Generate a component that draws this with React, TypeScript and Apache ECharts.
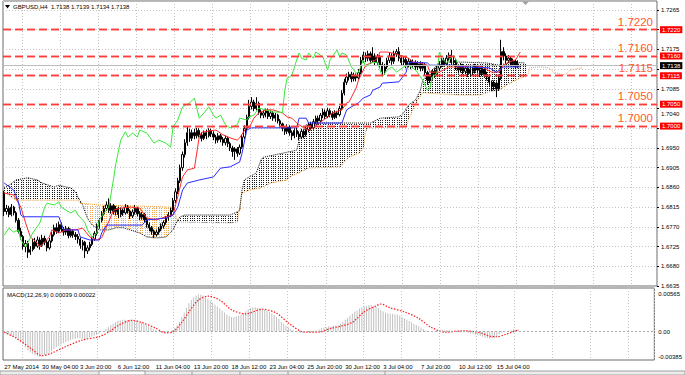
import React, { useEffect, useRef } from 'react';
import * as echarts from 'echarts';

const TIME_LABELS = ['27 May 2014', '30 May 04:00', '3 Jun 20:00', '6 Jun 12:00', '11 Jun 04:00', '13 Jun 20:00', '18 Jun 12:00', '23 Jun 04:00', '25 Jun 20:00', '30 Jun 12:00', '3 Jul 04:00', '7 Jul 20:00', '10 Jul 12:00', '15 Jul 04:00'];
const BARS_PER_LABEL = 16;
const SLOT_COUNT = 275;

// [open, close, low, high]
const CANDLES = [
  [1.6848,1.6805,1.6795,1.6852],[1.6805,1.6812,1.6798,1.6820],[1.6812,1.6798,1.6792,1.6818],[1.6798,1.6815,1.6794,1.6822],[1.6815,1.6802,1.6796,1.6818],
  [1.6802,1.6785,1.6780,1.6806],[1.6785,1.6760,1.6755,1.6790],[1.6760,1.6748,1.6740,1.6768],[1.6748,1.6725,1.6718,1.6752],[1.6725,1.6732,1.6712,1.6740],
  [1.6732,1.6712,1.6699,1.6738],[1.6712,1.6718,1.6706,1.6726],[1.6718,1.6735,1.6714,1.6742],[1.6735,1.6726,1.6720,1.6745],[1.6726,1.6740,1.6722,1.6748],
  [1.6740,1.6728,1.6718,1.6746],[1.6728,1.6744,1.6724,1.6752],[1.6744,1.6735,1.6728,1.6750],[1.6735,1.6722,1.6714,1.6740],[1.6722,1.6738,1.6718,1.6745],
  [1.6738,1.6752,1.6734,1.6758],[1.6752,1.6768,1.6748,1.6775],[1.6768,1.6760,1.6754,1.6778],[1.6760,1.6775,1.6756,1.6782],[1.6775,1.6765,1.6758,1.6780],
  [1.6765,1.6758,1.6750,1.6770],[1.6758,1.6766,1.6752,1.6772],[1.6766,1.6750,1.6744,1.6770],[1.6750,1.6760,1.6746,1.6766],[1.6760,1.6752,1.6745,1.6764],
  [1.6752,1.6748,1.6740,1.6758],[1.6748,1.6742,1.6732,1.6754],[1.6742,1.6728,1.6720,1.6746],[1.6728,1.6735,1.6716,1.6740],[1.6735,1.6715,1.6699,1.6738],
  [1.6715,1.6722,1.6708,1.6728],[1.6722,1.6730,1.6716,1.6736],[1.6730,1.6742,1.6726,1.6748],[1.6742,1.6755,1.6738,1.6760],[1.6755,1.6772,1.6750,1.6778],
  [1.6772,1.6785,1.6766,1.6790],[1.6785,1.6800,1.6780,1.6806],[1.6800,1.6812,1.6796,1.6818],[1.6812,1.6820,1.6806,1.6828],[1.6820,1.6808,1.6802,1.6835],
  [1.6808,1.6818,1.6800,1.6824],[1.6818,1.6805,1.6798,1.6822],[1.6805,1.6812,1.6796,1.6818],[1.6812,1.6798,1.6790,1.6816],[1.6798,1.6808,1.6792,1.6814],
  [1.6808,1.6802,1.6795,1.6812],[1.6802,1.6815,1.6798,1.6822],[1.6815,1.6806,1.6800,1.6820],[1.6806,1.6795,1.6788,1.6810],[1.6795,1.6804,1.6790,1.6810],
  [1.6804,1.6812,1.6798,1.6820],[1.6812,1.6800,1.6794,1.6816],[1.6800,1.6792,1.6785,1.6806],[1.6792,1.6798,1.6786,1.6804],[1.6798,1.6786,1.6780,1.6802],
  [1.6786,1.6775,1.6768,1.6790],[1.6775,1.6768,1.6760,1.6780],[1.6768,1.6760,1.6752,1.6772],[1.6760,1.6752,1.6745,1.6764],[1.6752,1.6758,1.6748,1.6764],
  [1.6758,1.6765,1.6752,1.6770],[1.6765,1.6772,1.6760,1.6778],[1.6772,1.6780,1.6766,1.6785],[1.6780,1.6790,1.6775,1.6795],[1.6790,1.6798,1.6784,1.6804],
  [1.6798,1.6808,1.6792,1.6814],[1.6808,1.6830,1.6804,1.6836],[1.6830,1.6850,1.6824,1.6858],[1.6850,1.6875,1.6845,1.6882],[1.6875,1.6905,1.6870,1.6912],
  [1.6905,1.6935,1.6898,1.6942],[1.6935,1.6962,1.6928,1.6970],[1.6962,1.6985,1.6955,1.6998],[1.6985,1.6972,1.6964,1.6994],[1.6972,1.6985,1.6966,1.6992],
  [1.6985,1.6978,1.6970,1.6994],[1.6978,1.6990,1.6972,1.6996],[1.6990,1.6980,1.6974,1.6995],[1.6980,1.6972,1.6965,1.6986],[1.6972,1.6985,1.6968,1.6990],
  [1.6985,1.6978,1.6970,1.6992],[1.6978,1.6990,1.6974,1.6995],[1.6990,1.6982,1.6975,1.6994],[1.6982,1.6975,1.6968,1.6988],[1.6975,1.6968,1.6960,1.6980],
  [1.6968,1.6978,1.6962,1.6984],[1.6978,1.6970,1.6963,1.6982],[1.6970,1.6962,1.6955,1.6975],[1.6962,1.6972,1.6956,1.6978],[1.6972,1.6960,1.6952,1.6976],
  [1.6960,1.6950,1.6943,1.6964],[1.6950,1.6942,1.6930,1.6955],[1.6942,1.6948,1.6923,1.6952],[1.6948,1.6938,1.6930,1.6952],[1.6938,1.6952,1.6934,1.6958],
  [1.6952,1.6975,1.6948,1.6980],[1.6975,1.6995,1.6970,1.7002],[1.6995,1.7020,1.6990,1.7026],[1.7020,1.7045,1.7015,1.7060],[1.7045,1.7055,1.7038,1.7066],
  [1.7055,1.7040,1.7034,1.7060],[1.7040,1.7052,1.7036,1.7066],[1.7052,1.7032,1.7026,1.7056],[1.7032,1.7025,1.7018,1.7038],[1.7025,1.7030,1.7018,1.7036],
  [1.7030,1.7035,1.7020,1.7040],[1.7035,1.7022,1.7016,1.7040],[1.7022,1.7030,1.7016,1.7036],[1.7030,1.7018,1.7012,1.7034],[1.7018,1.7025,1.7010,1.7030],
  [1.7025,1.7012,1.7006,1.7028],[1.7012,1.7005,1.6996,1.7016],[1.7005,1.6995,1.6988,1.7008],[1.6995,1.6988,1.6980,1.7000],[1.6988,1.6998,1.6982,1.7004],
  [1.6998,1.6985,1.6978,1.7002],[1.6985,1.6978,1.6968,1.6990],[1.6978,1.6990,1.6972,1.6995],[1.6990,1.6982,1.6975,1.6996],[1.6982,1.6975,1.6968,1.6988],
  [1.6975,1.6988,1.6970,1.6994],[1.6988,1.6980,1.6972,1.6992],[1.6980,1.6992,1.6976,1.6998],[1.6992,1.7002,1.6986,1.7008],[1.7002,1.6996,1.6990,1.7010],
  [1.6996,1.7010,1.6992,1.7016],[1.7010,1.7018,1.7004,1.7024],[1.7018,1.7012,1.7005,1.7024],[1.7012,1.7025,1.7008,1.7030],[1.7025,1.7032,1.7018,1.7040],
  [1.7032,1.7022,1.7016,1.7038],[1.7022,1.7035,1.7018,1.7042],[1.7035,1.7028,1.7020,1.7040],[1.7028,1.7020,1.7014,1.7034],[1.7020,1.7030,1.7016,1.7036],
  [1.7030,1.7026,1.7018,1.7035],[1.7026,1.7040,1.7022,1.7046],[1.7040,1.7075,1.7036,1.7082],[1.7075,1.7100,1.7070,1.7108],[1.7100,1.7112,1.7094,1.7120],
  [1.7112,1.7118,1.7104,1.7124],[1.7118,1.7108,1.7100,1.7124],[1.7108,1.7115,1.7102,1.7122],[1.7115,1.7110,1.7102,1.7120],[1.7110,1.7122,1.7106,1.7130],
  [1.7122,1.7150,1.7118,1.7158],[1.7150,1.7162,1.7145,1.7170],[1.7162,1.7155,1.7146,1.7168],[1.7155,1.7165,1.7148,1.7172],[1.7165,1.7150,1.7142,1.7170],
  [1.7150,1.7160,1.7144,1.7180],[1.7160,1.7145,1.7138,1.7166],[1.7145,1.7158,1.7140,1.7164],[1.7158,1.7140,1.7132,1.7162],[1.7140,1.7125,1.7117,1.7146],
  [1.7125,1.7135,1.7117,1.7142],[1.7135,1.7150,1.7130,1.7156],[1.7150,1.7160,1.7144,1.7168],[1.7160,1.7148,1.7140,1.7166],[1.7148,1.7165,1.7142,1.7172],
  [1.7165,1.7170,1.7158,1.7176],[1.7170,1.7155,1.7148,1.7180],[1.7155,1.7145,1.7138,1.7162],[1.7145,1.7152,1.7138,1.7160],[1.7152,1.7140,1.7132,1.7158],
  [1.7140,1.7148,1.7134,1.7155],[1.7148,1.7138,1.7130,1.7152],[1.7138,1.7145,1.7132,1.7152],[1.7145,1.7135,1.7128,1.7150],[1.7135,1.7142,1.7128,1.7148],
  [1.7142,1.7132,1.7125,1.7148],[1.7132,1.7140,1.7126,1.7146],[1.7140,1.7122,1.7115,1.7144],[1.7122,1.7105,1.7094,1.7126],[1.7105,1.7112,1.7098,1.7118],
  [1.7112,1.7125,1.7106,1.7130],[1.7125,1.7118,1.7110,1.7132],[1.7118,1.7132,1.7114,1.7138],[1.7132,1.7140,1.7126,1.7148],[1.7140,1.7150,1.7134,1.7158],
  [1.7150,1.7142,1.7136,1.7156],[1.7142,1.7155,1.7138,1.7162],[1.7155,1.7162,1.7148,1.7168],[1.7162,1.7145,1.7138,1.7174],[1.7145,1.7150,1.7138,1.7160],
  [1.7150,1.7135,1.7128,1.7155],[1.7135,1.7128,1.7120,1.7140],[1.7128,1.7138,1.7122,1.7144],[1.7138,1.7125,1.7118,1.7142],[1.7125,1.7132,1.7118,1.7138],
  [1.7132,1.7120,1.7112,1.7136],[1.7120,1.7130,1.7114,1.7136],[1.7130,1.7125,1.7116,1.7136],[1.7125,1.7136,1.7120,1.7142],[1.7136,1.7128,1.7120,1.7140],
  [1.7128,1.7120,1.7112,1.7134],[1.7120,1.7130,1.7114,1.7136],[1.7130,1.7118,1.7110,1.7134],[1.7118,1.7112,1.7104,1.7124],[1.7112,1.7100,1.7092,1.7116],
  [1.7100,1.7090,1.7080,1.7104],[1.7090,1.7098,1.7082,1.7104],[1.7098,1.7085,1.7066,1.7102],[1.7085,1.7110,1.7080,1.7118],[1.7110,1.7170,1.7105,1.7197],
  [1.7170,1.7160,1.7150,1.7180],[1.7160,1.7150,1.7142,1.7166],[1.7150,1.7155,1.7144,1.7162],[1.7155,1.7142,1.7136,1.7160],[1.7142,1.7148,1.7136,1.7154],
  [1.7148,1.7136,1.7130,1.7152],[1.7136,1.7142,1.7132,1.7150],[1.7138,1.7138,1.7134,1.7139]
];

// [bar index, price] vertices
const TENKAN = [[0,1.6847],[4,1.6843],[7,1.6815],[9,1.6779],[11,1.6747],[14,1.6733],[15,1.6724],[19,1.6747],[20,1.6763],[23,1.6756],[26,1.6763],[30,1.6763],[33,1.6767],[36,1.6747],[39,1.6740],[41,1.6745],[43,1.6770],[46,1.6808],[49,1.6813],[53,1.6815],[57,1.6813],[60,1.6790],[64,1.6786],[68,1.6793],[71,1.6797],[73,1.6840],[75,1.6884],[77,1.6900],[80,1.6904],[82,1.6975],[83,1.6986],[89,1.6991],[92,1.6980],[95,1.6973],[98,1.6968],[99,1.6973],[102,1.6998],[103,1.6996],[105,1.7018],[107,1.7030],[110,1.7037],[113,1.7037],[117,1.7030],[119,1.7021],[121,1.7018],[123,1.7007],[126,1.6996],[128,1.6991],[130,1.6996],[133,1.7009],[136,1.7021],[138,1.7030],[142,1.7037],[144,1.7053],[145,1.7055],[148,1.7087],[149,1.7105],[152,1.7139],[155,1.7146],[157,1.7155],[158,1.7169],[161,1.7169],[163,1.7167],[166,1.7162],[170,1.7155],[172,1.7146],[175,1.7144],[178,1.7139],[179,1.7123],[183,1.7123],[187,1.7135],[193,1.7135],[197,1.7139],[201,1.7135],[205,1.7123],[208,1.7123],[210,1.7139],[212,1.7146],[215,1.7151],[217,1.7169]];
const KIJUN = [[0,1.6870],[4,1.6854],[6,1.6827],[7,1.6797],[8,1.6793],[23,1.6793],[25,1.6763],[31,1.6763],[32,1.6747],[36,1.6740],[40,1.6740],[41,1.6756],[43,1.6774],[58,1.6774],[60,1.6786],[68,1.6790],[71,1.6797],[73,1.6815],[75,1.6854],[77,1.6870],[82,1.6877],[88,1.6884],[91,1.6904],[95,1.6907],[99,1.6918],[100,1.6938],[102,1.6991],[104,1.6996],[123,1.6996],[124,1.7018],[127,1.7018],[128,1.7007],[142,1.7007],[144,1.7037],[146,1.7044],[149,1.7053],[151,1.7064],[154,1.7071],[155,1.7082],[158,1.7089],[159,1.7098],[166,1.7101],[169,1.7123],[170,1.7144],[172,1.7146],[178,1.7144],[179,1.7139],[189,1.7139],[193,1.7135],[204,1.7133],[207,1.7123],[210,1.7135],[217,1.7135]];
const CHIKOU = [[0,1.6751],[2,1.6767],[4,1.6758],[6,1.6763],[7,1.6740],[9,1.6724],[10,1.6735],[12,1.6756],[15,1.6779],[17,1.6815],[18,1.6824],[21,1.6820],[23,1.6827],[24,1.6815],[26,1.6808],[28,1.6802],[30,1.6808],[31,1.6797],[33,1.6786],[34,1.6779],[35,1.6763],[37,1.6747],[39,1.6756],[40,1.6786],[42,1.6802],[44,1.6815],[45,1.6847],[46,1.6880],[47,1.6915],[49,1.6968],[51,1.6987],[52,1.6975],[54,1.6984],[56,1.6975],[57,1.6991],[60,1.6984],[63,1.6961],[65,1.6968],[68,1.6961],[70,1.6952],[71,1.6998],[73,1.7014],[75,1.7044],[78,1.7053],[80,1.7064],[82,1.7018],[84,1.7030],[86,1.7044],[88,1.7025],[89,1.7018],[91,1.7025],[93,1.7003],[95,1.6996],[98,1.7003],[99,1.7018],[102,1.7014],[103,1.7021],[105,1.7025],[107,1.7041],[110,1.7037],[113,1.7032],[116,1.7032],[117,1.7030],[118,1.7082],[119,1.7110],[120,1.7112],[121,1.7117],[123,1.7151],[124,1.7167],[125,1.7155],[127,1.7151],[128,1.7167],[130,1.7155],[131,1.7169],[134,1.7158],[136,1.7128],[137,1.7151],[140,1.7174],[141,1.7158],[142,1.7167],[144,1.7162],[146,1.7135],[148,1.7121],[149,1.7123],[151,1.7151],[152,1.7135],[154,1.7144],[157,1.7146],[159,1.7112],[161,1.7128],[163,1.7135],[165,1.7123],[168,1.7135],[170,1.7139],[173,1.7128],[176,1.7105],[178,1.7082],[179,1.7087],[180,1.7112],[182,1.7121],[183,1.7169],[184,1.7155],[186,1.7144],[189,1.7162],[190,1.7151],[191,1.7138]];
const SPAN_A = [[0,1.6860],[2,1.6865],[5,1.6877],[10,1.6882],[14,1.6877],[16,1.6870],[21,1.6861],[23,1.6865],[26,1.6861],[28,1.6859],[30,1.6850],[31,1.6838],[33,1.6820],[34,1.6804],[35,1.6790],[37,1.6774],[40,1.6763],[44,1.6763],[47,1.6768],[50,1.6768],[53,1.6763],[57,1.6756],[60,1.6747],[63,1.6745],[65,1.6745],[68,1.6747],[71,1.6763],[73,1.6786],[74,1.6793],[76,1.6797],[95,1.6797],[98,1.6804],[99,1.6808],[100,1.6854],[101,1.6877],[103,1.6884],[106,1.6893],[108,1.6923],[109,1.6929],[117,1.6938],[123,1.6945],[124,1.6968],[126,1.6991],[127,1.7003],[128,1.7007],[154,1.7007],[158,1.7018],[166,1.7021],[168,1.7030],[170,1.7048],[173,1.7060],[175,1.7082],[176,1.7105],[179,1.7123],[182,1.7139],[183,1.7146],[193,1.7146],[203,1.7144],[208,1.7139],[214,1.7146],[219,1.7144]];
const SPAN_B = [[0,1.6850],[3,1.6838],[5,1.6831],[31,1.6831],[32,1.6824],[40,1.6820],[71,1.6815],[73,1.6781],[95,1.6779],[98,1.6781],[100,1.6847],[103,1.6854],[108,1.6859],[112,1.6870],[119,1.6877],[120,1.6884],[128,1.6904],[141,1.6907],[143,1.6918],[145,1.6929],[149,1.6938],[151,1.6950],[152,1.6990],[153,1.6996],[169,1.6998],[170,1.7014],[173,1.7053],[176,1.7076],[191,1.7071],[200,1.7071],[204,1.7078],[208,1.7082],[212,1.7096],[217,1.7110],[220,1.7114],[221,1.7133],[225,1.7135],[229,1.7133],[231,1.7123],[233,1.7119],[236,1.7117],[238,1.7128],[240,1.7130],[243,1.7133]];

const MACD_MAIN = [
  -0.0001,-0.0003,-0.0005,-0.0006,-0.0008,-0.0010,-0.0012,-0.0015,-0.0019,-0.0024,
  -0.0029,-0.0032,-0.0034,-0.0036,-0.0037,-0.00385,-0.0038,-0.0036,-0.0034,-0.0032,
  -0.0030,-0.0027,-0.0024,-0.0022,-0.0020,-0.0018,-0.0016,-0.0015,-0.0013,-0.0012,
  -0.0011,-0.0010,-0.0010,-0.0011,-0.0012,-0.0011,-0.0009,-0.0008,-0.0006,-0.0005,
  -0.0003,-0.0001,0.0001,0.0004,0.0007,0.0010,0.0012,0.0014,0.0016,0.0017,
  0.0018,0.0018,0.0017,0.0018,0.0017,0.0016,0.0016,0.0015,0.0014,0.0012,
  0.0010,0.0008,0.0006,0.0004,0.0002,0.0000,-0.0001,-0.0002,-0.0002,-0.0001,
  0.0000,0.0002,0.0005,0.0009,0.0015,0.0022,0.0029,0.0036,0.0043,0.0048,
  0.0052,0.0055,0.00565,0.0056,0.0055,0.0053,0.0050,0.0047,0.0044,0.0041,
  0.0038,0.0035,0.0032,0.0029,0.0026,0.0024,0.0022,0.0022,0.0023,0.0024,
  0.0026,0.0028,0.0031,0.0034,0.0036,0.0037,0.0037,0.0036,0.0036,0.0035,
  0.0033,0.0032,0.0030,0.0028,0.0025,0.0022,0.0019,0.0015,0.0012,0.0009,
  0.0006,0.0004,0.0002,0.0000,-0.0001,-0.0002,-0.0002,-0.0001,0.0000,-0.0001,
  0.0000,0.0001,0.0002,0.0003,0.0005,0.0006,0.0007,0.0008,0.0008,0.0009,
  0.0009,0.0010,0.0012,0.0015,0.0018,0.0021,0.0024,0.0027,0.0030,0.0032,
  0.0035,0.0037,0.0038,0.0039,0.0040,0.0040,0.0039,0.0038,0.0036,0.0033,
  0.0031,0.0029,0.0028,0.0027,0.0027,0.0026,0.0026,0.0024,0.0022,0.0020,
  0.0018,0.0016,0.0014,0.0012,0.0010,0.0008,0.0006,0.0004,0.0002,0.0001,
  0.0000,0.0000,0.0001,0.0002,0.0002,0.0003,0.0002,0.0002,0.0002,0.0001,
  0.0001,0.0001,0.0001,0.0000,0.0000,-0.0001,-0.0002,-0.0003,-0.0004,-0.0005,
  -0.0006,-0.0007,-0.0008,-0.0009,-0.0010,-0.0011,-0.0010,-0.0010,-0.0008,-0.0004,
  -0.0002,-0.0001,0.0000,0.0001,0.0002,0.0003,0.0003,0.00039
];
const MACD_SIGNAL = [[0,-0.0001],[5,-0.0010],[11,-0.0025],[16,-0.0037],[20,-0.0033],[26,-0.0023],[33,-0.0013],[40,-0.0008],[44,-0.0001],[49,0.0011],[54,0.0017],[58,0.0014],[64,0.0005],[68,-0.0002],[71,-0.0001],[75,0.0014],[78,0.0030],[82,0.0048],[86,0.0054],[91,0.0048],[96,0.0033],[102,0.0027],[109,0.0034],[115,0.0028],[120,0.0013],[127,-0.0001],[133,-0.0001],[138,0.0005],[142,0.0008],[147,0.0014],[152,0.0030],[157,0.0039],[159,0.0042],[163,0.0036],[169,0.0030],[175,0.0020],[180,0.0007],[186,-0.0001],[194,0.0001],[200,-0.0001],[205,-0.0007],[208,-0.0008],[212,-0.0004],[217,0.00022]];

const LEVELS = [1.7220, 1.7160, 1.7115, 1.7050, 1.7000];
const LAST_PRICE = 1.7138;
const MACD_AXIS_LABELS = [-0.00385, 0, 0.00565];
const TITLE = 'GBPUSD,H4  1.7138 1.7139 1.7134 1.7138';
const MACD_TITLE = 'MACD(12,26,9) 0.00039 0.00022';

const FONT = '"Liberation Sans", Arial, sans-serif';
const SMALL = 6;
const SLOTS = Array.from({ length: SLOT_COUNT }, (_, i) => String(i));
const BOXED = [...LEVELS, LAST_PRICE];

function sampleAt(list: number[][], k: number): number | null {
  if (k < list[0][0] || k > list[list.length - 1][0]) return null;
  for (let i = 0; i < list.length - 1; i++) {
    const [x0, y0] = list[i];
    const [x1, y1] = list[i + 1];
    if (k >= x0 && k <= x1) return x1 === x0 ? y1 : y0 + ((y1 - y0) * (k - x0)) / (x1 - x0);
  }
  return list[list.length - 1][1];
}

function priceLabel(v: number): string {
  const d = Math.min(...BOXED.map((b) => Math.abs(b - v)));
  if (d < 0.0009) return '';
  if (d < 0.0012) return '{low|' + v.toFixed(4) + '}';
  return v.toFixed(4);
}

const gridInterval = (i: number) => i >= 8 && (i - 8) % BARS_PER_LABEL === 0;
const labelInterval = (i: number) => i % BARS_PER_LABEL === 0 && i / BARS_PER_LABEL < TIME_LABELS.length;
const GRID_LINE = { color: '#c4c4c4', type: [1, 2], width: 1 };
const LEVEL_LINE = { color: '#ff3c3c', type: [8, 4], width: 1.4 };

export default function App() {
  const ref = useRef<HTMLDivElement>(null);
  useEffect(() => {
    if (!ref.current) return;
    const chart = echarts.init(ref.current, null, { renderer: 'svg' });
    const levelMarks: any[] = [];
    LEVELS.forEach((v) => {
      levelMarks.push({
        yAxis: v,
        lineStyle: LEVEL_LINE,
        label: { show: true, position: 'end', formatter: v.toFixed(4), color: '#fff', backgroundColor: '#ff0000', fontSize: SMALL, padding: [1, 2, 0, 2], distance: 3, fontFamily: FONT },
      });
      levelMarks.push({
        yAxis: v,
        lineStyle: LEVEL_LINE,
        label: { show: true, position: 'insideEndTop', formatter: v.toFixed(4), color: '#ff5a1f', fontSize: 11.5, distance: [4, 2], fontFamily: FONT },
      });
    });
    levelMarks.push({
      yAxis: LAST_PRICE,
      lineStyle: { color: '#bcbcbc', type: 'solid', width: 1 },
      label: { show: true, position: 'end', formatter: LAST_PRICE.toFixed(4), color: '#fff', backgroundColor: '#000', fontSize: SMALL, padding: [1, 2, 0, 2], distance: 3, fontFamily: FONT },
    });

    const option: any = {
      animation: false,
      backgroundColor: '#fff',
      textStyle: { fontFamily: FONT },
      grid: [
        { left: 3, top: 1, width: 654, height: 285, show: true, borderColor: '#6a6a6a', borderWidth: 1, backgroundColor: 'transparent' },
        { left: 3, top: 288, width: 654, height: 72, show: true, borderColor: '#6a6a6a', borderWidth: 1, backgroundColor: 'transparent' },
      ],
      xAxis: [
        {
          type: 'category', gridIndex: 0, data: SLOTS, boundaryGap: true,
          axisLine: { show: false }, axisTick: { show: false }, axisLabel: { show: false },
          splitLine: { show: true, interval: gridInterval, lineStyle: GRID_LINE },
        },
        {
          type: 'category', gridIndex: 1, data: SLOTS, boundaryGap: true,
          axisLine: { show: false }, axisTick: { show: false },
          axisLabel: {
            show: true, interval: labelInterval, align: 'left', fontSize: SMALL, color: '#000', margin: 4, fontFamily: FONT,
            formatter: (_v: string, i: number) => TIME_LABELS[i / BARS_PER_LABEL] ?? '',
          },
          splitLine: { show: true, interval: gridInterval, lineStyle: GRID_LINE },
        },
      ],
      yAxis: [
        {
          type: 'value', gridIndex: 0, position: 'right', min: 1.6635, max: 1.72855, interval: 0.0045,
          axisLine: { show: false }, axisTick: { show: true, length: 2, lineStyle: { color: '#000' } },
          axisLabel: {
            fontSize: SMALL, color: '#000', margin: 4, showMaxLabel: false, fontFamily: FONT,
            formatter: priceLabel,
            rich: { low: { fontSize: SMALL, color: '#000', fontFamily: FONT, padding: [11, 0, 0, 0] } },
          },
          splitLine: { show: true, lineStyle: GRID_LINE },
        },
        {
          type: 'value', gridIndex: 1, position: 'right', min: -0.00435, max: 0.00664,
          axisLine: { show: false }, axisTick: { show: false },
          axisLabel: { customValues: MACD_AXIS_LABELS, fontSize: SMALL, color: '#000', margin: 4, fontFamily: FONT, formatter: (v: number) => (v === 0 ? '0.00' : v.toFixed(5)) },
          splitLine: { show: false },
        },
      ],
      series: [
        {
          type: 'custom', name: 'kumo', xAxisIndex: 0, yAxisIndex: 0, z: 1, silent: true,
          data: [[0, 1.7]],
          renderItem: (_p: any, api: any) => {
            const children: any[] = [];
            const end = Math.min(SPAN_A[SPAN_A.length - 1][0], SPAN_B[SPAN_B.length - 1][0]);
            for (let k = 0; k <= end; k++) {
              const a = sampleAt(SPAN_A, k);
              const b = sampleAt(SPAN_B, k);
              if (a == null || b == null) continue;
              const pa = api.coord([k, a]);
              const pb = api.coord([k, b]);
              let y1 = Math.min(pa[1], pb[1]);
              const y2 = Math.max(pa[1], pb[1]);
              y1 = Math.ceil(y1 / 2) * 2;
              if (y2 - y1 < 1) continue;
              const x = Math.round(pa[0]) + 0.5;
              children.push({
                type: 'line', shape: { x1: x, y1, x2: x, y2 },
                style: { stroke: a >= b ? '#1a1a1a' : '#f2a850', lineWidth: 1, lineDash: [1, 1] },
              });
            }
            return { type: 'group', children };
          },
        },
        { type: 'line', name: 'spanB', xAxisIndex: 0, yAxisIndex: 0, data: SPAN_B, symbol: 'none', z: 2, silent: true, lineStyle: { color: '#f0a040', width: 1, type: [1, 1] } },
        { type: 'line', name: 'spanA', xAxisIndex: 0, yAxisIndex: 0, data: SPAN_A, symbol: 'none', z: 2, silent: true, lineStyle: { color: '#000', width: 1, type: [1, 1] } },
        {
          type: 'candlestick', name: 'GBPUSD', xAxisIndex: 0, yAxisIndex: 0, data: CANDLES, barWidth: 1.8, z: 3,
          itemStyle: { color: '#fff', color0: '#000', borderColor: '#000', borderColor0: '#000', borderWidth: 1 },
          markLine: { symbol: ['none', 'none'], silent: true, animation: false, precision: 4, data: levelMarks },
        },
        { type: 'line', name: 'tenkan', xAxisIndex: 0, yAxisIndex: 0, data: TENKAN, symbol: 'none', z: 4, silent: true, lineStyle: { color: '#ff2a2a', width: 1 } },
        { type: 'line', name: 'kijun', xAxisIndex: 0, yAxisIndex: 0, data: KIJUN, symbol: 'none', z: 4, silent: true, lineStyle: { color: '#2a2aff', width: 1 } },
        { type: 'line', name: 'chikou', xAxisIndex: 0, yAxisIndex: 0, data: CHIKOU, symbol: 'none', z: 4, silent: true, lineStyle: { color: '#3ae83a', width: 1 } },
        {
          type: 'bar', name: 'macd', xAxisIndex: 1, yAxisIndex: 1, data: MACD_MAIN, barWidth: 1, z: 2, silent: true,
          itemStyle: { color: '#c0c0c0' },
          markLine: { symbol: ['none', 'none'], silent: true, precision: 5, label: { show: false }, data: [{ yAxis: 0 }], lineStyle: { color: '#a8a8a8', type: [2, 2], width: 1 } },
        },
        { type: 'line', name: 'signal', xAxisIndex: 1, yAxisIndex: 1, data: MACD_SIGNAL, symbol: 'none', smooth: 0.3, z: 3, silent: true, lineStyle: { color: '#ff2020', width: 1.2, type: [1.5, 1.5] } },
      ],
      graphic: [
        { type: 'polygon', z: 100, shape: { points: [[5, 5], [10, 5], [7.5, 8.5]] }, style: { fill: '#000' } },
        { type: 'text', z: 100, x: 13, y: 7, style: { text: TITLE, fontSize: SMALL, fill: '#000', fontFamily: FONT, verticalAlign: 'middle' } },
        { type: 'polygon', z: 100, shape: { points: [[522, 1.5], [529, 1.5], [525.5, 5]] }, style: { fill: '#a0a0a0' } },
        { type: 'text', z: 100, x: 7, y: 295, style: { text: MACD_TITLE, fontSize: SMALL, fill: '#000', fontFamily: FONT, verticalAlign: 'middle' } },
        { type: 'rect', z: 100, shape: { x: 0, y: 371, width: 685, height: 4 }, style: { fill: '#ececec', stroke: '#a0a0a0', lineWidth: 1 } },
        { type: 'rect', z: 101, shape: { x: 99, y: 371, width: 46, height: 4 }, style: { fill: '#fff', stroke: '#a0a0a0', lineWidth: 1 } },
        { type: 'line', z: 101, shape: { x1: 192, y1: 371, x2: 192, y2: 375 }, style: { stroke: '#a0a0a0' } },
        { type: 'line', z: 101, shape: { x1: 240, y1: 371, x2: 240, y2: 375 }, style: { stroke: '#a0a0a0' } },
        { type: 'line', z: 101, shape: { x1: 288, y1: 371, x2: 288, y2: 375 }, style: { stroke: '#a0a0a0' } },
        { type: 'line', z: 101, shape: { x1: 385, y1: 371, x2: 385, y2: 375 }, style: { stroke: '#a0a0a0' } },
      ],
    };
    chart.setOption(option);
    return () => chart.dispose();
  }, []);
  return (
    <div style={{ position: 'fixed', left: 0, top: 0, width: 685, height: 375, background: '#fff' }}>
      <div ref={ref} style={{ width: 685, height: 375 }} />
    </div>
  );
}
